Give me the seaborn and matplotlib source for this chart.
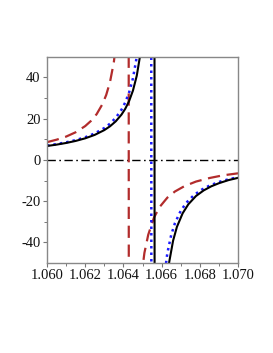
import numpy as np
import pandas as pd
import matplotlib
matplotlib.use("Agg")
import matplotlib.pyplot as plt
import seaborn as sns

# curve samples (each branch ends with a near-vertical jump at its pole)
black_x = [1.060, 1.0605, 1.061, 1.0615, 1.062, 1.0625, 1.063, 1.0633, 1.0636, 1.0639,
           1.0641, 1.0643, 1.0645, 1.0647, 1.0649, 1.0651, 1.0653, 1.0655, 1.06559,
           1.06567, 1.0658, 1.066, 1.0662, 1.0664, 1.0666, 1.0668, 1.0671, 1.0674,
           1.0678, 1.0682, 1.0686, 1.069, 1.0695, 1.070]
black_y = [6.75, 7.41, 8.21, 9.20, 10.47, 12.14, 14.45, 16.31, 18.72, 21.97,
           24.84, 28.57, 33.63, 40.86, 52.05, 71.7, 115.2, 292.0, 950.0,
           -950.0, -223.5, -102.7, -66.7, -49.4, -39.2, -32.5, -25.9, -21.5,
           -17.5, -14.8, -12.8, -11.3, -9.8, -8.7]

blue_x = [1.060, 1.0605, 1.061, 1.0615, 1.062, 1.0625, 1.063, 1.0633, 1.0636, 1.0639,
          1.0641, 1.0643, 1.0645, 1.0647, 1.0649, 1.0651, 1.0653, 1.06542,
          1.0655, 1.0657, 1.0659, 1.0661, 1.0663, 1.0665, 1.0667, 1.067, 1.0673,
          1.0677, 1.0681, 1.0685, 1.069, 1.0695, 1.070]
blue_y = [6.96, 7.66, 8.52, 9.60, 10.98, 12.84, 15.45, 17.59, 20.43, 24.36,
          27.94, 32.76, 39.58, 50.0, 67.9, 105.6, 237.5, 950.0,
          -950.0, -158.0, -86.4, -59.4, -45.2, -36.5, -30.6, -24.7, -20.7,
          -17.0, -14.4, -12.5, -10.7, -9.4, -8.4]

red_x = [1.060, 1.0605, 1.061, 1.0615, 1.062, 1.0623, 1.0626, 1.0629, 1.0631, 1.0633,
         1.0635, 1.0637, 1.0639, 1.0641, 1.06424,
         1.06432, 1.0645, 1.0647, 1.0649, 1.0651, 1.0653, 1.0656, 1.0659, 1.0663,
         1.0667, 1.0672, 1.0678, 1.0685, 1.0692, 1.070]
red_y = [8.6, 9.8, 11.3, 13.4, 16.4, 18.9, 22.2, 27.0, 31.5, 37.8,
         47.4, 63.8, 97.4, 205.0, 925.0,
         -925.0, -168.0, -88.0, -59.7, -45.1, -36.3, -28.0, -22.8, -18.3,
         -15.3, -12.7, -10.5, -8.8, -7.5, -6.5]

zero_x = [1.060, 1.070]
zero_y = [0, 0]

x_ticks = [1.060, 1.062, 1.064, 1.066, 1.068, 1.070]
y_ticks = [-40, -20, 0, 20, 40]

sns.set_style("white")
plt.rcParams['font.family'] = ['Liberation Serif', 'DejaVu Serif']
plt.rcParams['axes.unicode_minus'] = False

fig = plt.figure(figsize=(2.73, 3.53), dpi=100)
ax = fig.add_axes([0.172, 0.255, 0.70, 0.584])

sns.lineplot(x=zero_x, y=zero_y, ax=ax, color='black', lw=1.0,
             estimator=None, sort=False)
ax.lines[-1].set_dashes([6, 2.5, 1.2, 2.5])
sns.lineplot(x=red_x, y=red_y, ax=ax, color='#b22c2c', lw=1.6,
             estimator=None, sort=False)
ax.lines[-1].set_dashes([5.5, 3])
sns.lineplot(x=blue_x, y=blue_y, ax=ax, color='#1a1aff', lw=1.8,
             estimator=None, sort=False)
ax.lines[-1].set_dashes([1, 1.6])
sns.lineplot(x=black_x, y=black_y, ax=ax, color='black', lw=1.5,
             estimator=None, sort=False)

ax.set_xlim(1.060, 1.070)
ax.set_ylim(-50, 50)
ax.set_xticks(x_ticks)
ax.set_xticklabels([f"{v:.3f}" for v in x_ticks])
ax.set_yticks(y_ticks)
ax.set_yticklabels([str(v) for v in y_ticks])
ax.set_xticks(np.arange(1.061, 1.070, 0.002), minor=True)
ax.set_yticks([-30, -10, 10, 30], minor=True)
ax.tick_params(which='major', direction='out', length=3, width=0.8,
               color='#777777', labelsize=10.5, labelcolor='#111111', pad=1.5,
               bottom=True, left=True)
ax.tick_params(which='minor', direction='out', length=2, width=0.7,
               color='#777777', bottom=True, left=True)
for s in ax.spines.values():
    s.set_color('#888888')
    s.set_linewidth(1.0)
ax.set_xlabel('')
ax.set_ylabel('')

fig.savefig('out.png', dpi=100)
